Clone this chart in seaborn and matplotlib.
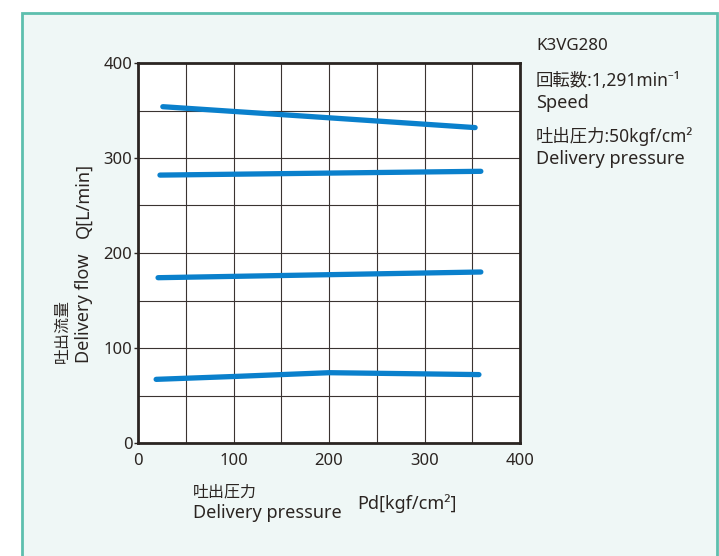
import matplotlib
matplotlib.use("Agg")
import matplotlib.pyplot as plt
import numpy as np
import pandas as pd
import seaborn as sns
from matplotlib.patches import Rectangle

# Delivery pressure Pd [kgf/cm2] vs delivery flow Q [L/min], four curves
CURVE_A_PD = [26, 190, 353]
CURVE_A_Q = [354, 343, 332]
CURVE_B_PD = [23, 190, 359]
CURVE_B_Q = [282, 284, 286]
CURVE_C_PD = [21, 190, 359]
CURVE_C_Q = [174, 177, 180]
CURVE_D_PD = [19, 100, 200, 280, 357]
CURVE_D_Q = [67, 70, 74, 73, 72]

X_TICKS = [0, 100, 200, 300, 400]
Y_TICKS = [0, 100, 200, 300, 400]

rows = []
for name, xs, ys in [("A", CURVE_A_PD, CURVE_A_Q), ("B", CURVE_B_PD, CURVE_B_Q),
                     ("C", CURVE_C_PD, CURVE_C_Q), ("D", CURVE_D_PD, CURVE_D_Q)]:
    for x, y in zip(xs, ys):
        rows.append({"curve": name, "Pd": x, "Q": y})
df = pd.DataFrame(rows)

sns.set_style("white")
plt.rcParams["font.family"] = ["Noto Sans", "Noto Sans CJK JP", "DejaVu Sans"]

BG = "#eff7f6"
TEAL = "#5dbfae"
BLUE = "#0a80cc"
TXT = "#2b2522"

fig = plt.figure(figsize=(7.19, 5.56), dpi=100)
fig.patch.set_facecolor("white")
fig.patches.append(Rectangle((22 / 719, -0.05), 695 / 719, 1.05 - 13 / 556,
                             transform=fig.transFigure, facecolor=BG,
                             edgecolor=TEAL, linewidth=2, zorder=-5))

ax = fig.add_axes([138 / 719, (556 - 443) / 556, 382 / 719, 380 / 556])
ax.set_facecolor("white")
sns.lineplot(data=df, x="Pd", y="Q", units="curve", estimator=None,
             color=BLUE, linewidth=3.8, ax=ax, sort=True, zorder=3)

ax.set_xlim(0, 400)
ax.set_ylim(0, 400)
ax.set_xticks(X_TICKS)
ax.set_yticks(Y_TICKS)
ax.set_xticks(np.arange(0, 401, 50), minor=True)
ax.set_yticks(np.arange(0, 401, 50), minor=True)
ax.grid(which="both", color="#3a3331", linewidth=0.8)
for s in ax.spines.values():
    s.set_color("#2b2522")
    s.set_linewidth(2.0)
ax.tick_params(axis="y", which="major", left=True, length=3, width=1,
               color=TXT, labelsize=12, labelcolor=TXT, pad=1)
ax.tick_params(axis="x", which="major", bottom=False, labelsize=12,
               labelcolor=TXT, pad=4)
ax.tick_params(which="minor", length=0)
ax.set_xlabel("")
ax.set_ylabel("")

fs = 13
cjk = 11.5
# right-hand annotation block
fig.text(536 / 719, 1 - 46 / 556, "K3VG280", fontsize=12.2, color=TXT, va="center")
fig.text(536 / 719, 1 - 81 / 556, "回転数:1,291min⁻¹", fontsize=12.5, color=TXT, va="center")
fig.text(536 / 719, 1 - 103 / 556, "Speed", fontsize=fs, color=TXT, va="center")
fig.text(536 / 719, 1 - 137 / 556, "吐出圧力:50kgf/cm²", fontsize=12.5, color=TXT, va="center")
fig.text(536 / 719, 1 - 159 / 556, "Delivery pressure", fontsize=fs, color=TXT, va="center")

# y-axis label
fig.text(63 / 719, 1 - 363 / 556, "吐出流量", fontsize=cjk, color=TXT,
         rotation=90, ha="center", va="bottom")
fig.text(84 / 719, 1 - 363 / 556, "Delivery flow", fontsize=fs, color=TXT,
         rotation=90, ha="center", va="bottom")
fig.text(84 / 719, 1 - 238 / 556, "Q[L/min]", fontsize=fs, color=TXT,
         rotation=90, ha="center", va="bottom")

# x-axis label
fig.text(193 / 719, 1 - 492 / 556, "吐出圧力", fontsize=cjk, color=TXT, va="center")
fig.text(193 / 719, 1 - 513 / 556, "Delivery pressure", fontsize=fs, color=TXT, va="center")
fig.text(357 / 719, 1 - 504 / 556, "Pd[kgf/cm²]", fontsize=fs, color=TXT, va="center")

fig.savefig("out.png", dpi=100)
